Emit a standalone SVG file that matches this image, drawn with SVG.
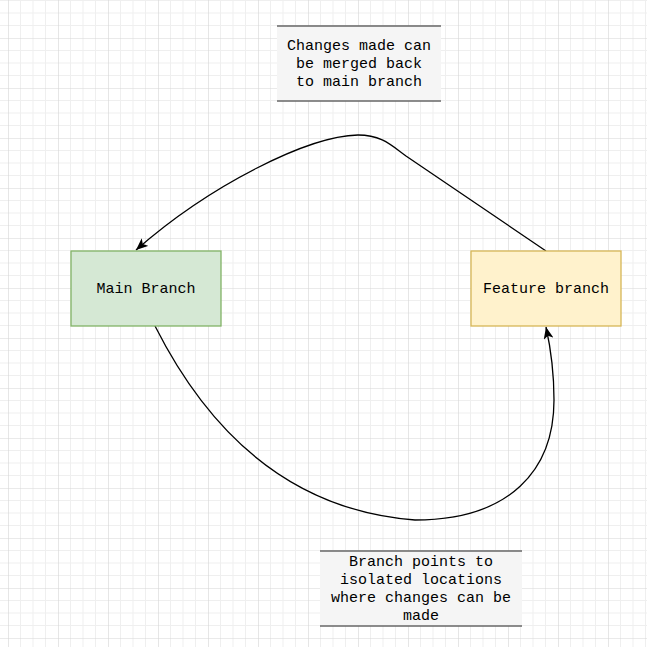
<svg xmlns="http://www.w3.org/2000/svg" width="647" height="647" viewBox="0 0 647 647">
<style>
.t{font-family:"Liberation Mono","DejaVu Sans Mono",monospace;font-size:15px;fill:#000;text-anchor:middle}
.edge{fill:none;stroke:#000;stroke-width:1.3}
.note{fill:#f5f5f5;stroke:none}
.nline{stroke:#666;stroke-width:1.3}
</style>
<defs>
<pattern id="grid" patternUnits="userSpaceOnUse" x="8" y="38" width="50" height="50">
<path d="M12.5 0V50M25 0V50M37.5 0V50M0 12.5H50M0 25H50M0 37.5H50" stroke="#efefef" stroke-width="1"/>
<path d="M0 0V50M0 0H50" stroke="#d6d6d6" stroke-width="1.2"/>
</pattern>
<marker id="arr" viewBox="0 0 12 10" refX="12" refY="5" markerWidth="12" markerHeight="10" markerUnits="userSpaceOnUse" orient="auto">
<path d="M0,0 L12,5 L0,10 L3,5 Z" fill="#000"/>
</marker>
</defs>
<rect width="647" height="647" fill="#fff"/>
<rect width="647" height="647" fill="url(#grid)"/>
<g id="connectors">
<path class="edge" d="M546,251 L406,156 C392,146 382,135 358,135 C308,136 210,185 136,250" marker-end="url(#arr)"/>
<path class="edge" d="M155,326 C205,425 285,510 415,520 C510,520 554,470 554,400 C554,370 550,345 546,327" marker-end="url(#arr)"/>
</g>
<g id="main-branch">
<rect x="71" y="251" width="150" height="75" fill="#d5e8d4" stroke="#82b366" stroke-width="1.3"/>
<text class="t" x="146" y="293">Main Branch</text>
</g>
<g id="feature-branch">
<rect x="471" y="251" width="150" height="75" fill="#fff2cc" stroke="#d6b656" stroke-width="1.3"/>
<text class="t" x="546" y="293">Feature branch</text>
</g>
<g id="note-merge">
<rect class="note" x="277" y="26" width="164" height="75"/>
<line class="nline" x1="277" y1="26" x2="441" y2="26"/>
<line class="nline" x1="277" y1="101" x2="441" y2="101"/>
<text class="t" x="359" y="50">Changes made can</text>
<text class="t" x="359" y="68">be merged back</text>
<text class="t" x="359" y="86">to main branch</text>
</g>
<g id="note-branch">
<rect class="note" x="320" y="551" width="202" height="75"/>
<line class="nline" x1="320" y1="551" x2="522" y2="551"/>
<line class="nline" x1="320" y1="626" x2="522" y2="626"/>
<text class="t" x="421" y="566">Branch points to</text>
<text class="t" x="421" y="584">isolated locations</text>
<text class="t" x="421" y="602">where changes can be</text>
<text class="t" x="421" y="620">made</text>
</g>
</svg>
